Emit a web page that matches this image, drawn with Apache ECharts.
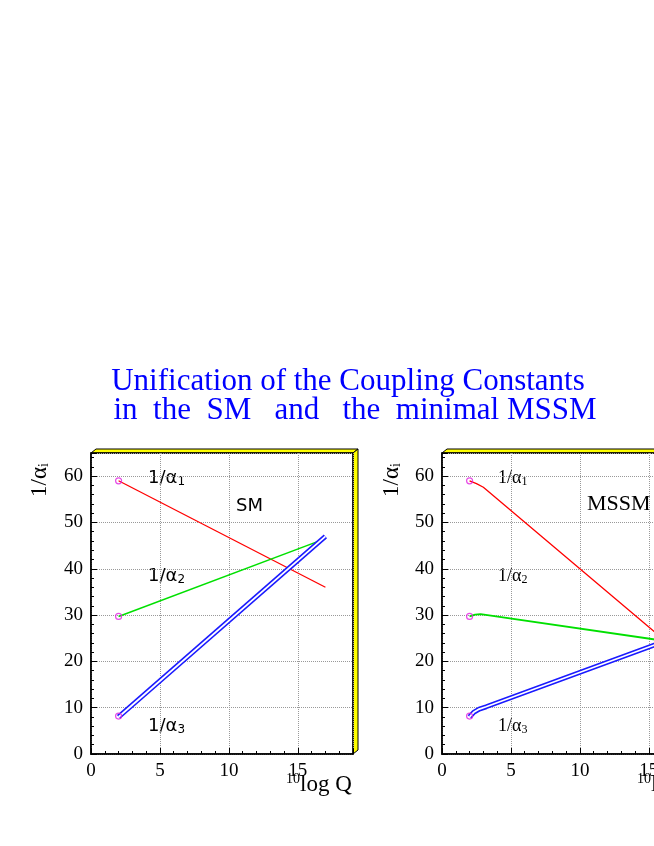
<!DOCTYPE html>
<html><head><meta charset="utf-8">
<script src="https://cdn.jsdelivr.net/npm/echarts@6/dist/echarts.min.js"></script>
<style>html,body{margin:0;padding:0;background:#fff;overflow:hidden;width:654px;height:846px}#c{width:720px;height:846px}</style>
</head><body><div id="c"></div>
<script>
const titleLines = ["Unification of the Coupling Constants", "in  the  SM   and   the  minimal MSSM"];
const xTicks = [0, 5, 10, 15];
const yTicks = [0, 10, 20, 30, 40, 50, 60];
const smA1 = [[2, 59], [17, 36]];
const smA2 = [[2, 29.7], [17, 46.5]];
const smA3 = [[2, 8], [17, 47]];
const mssmA1 = [[2, 59], [2.5, 58.4], [3, 57.6], [16.2, 24.4]];
const mssmA2 = [[2, 29.7], [2.4, 30.1], [2.8, 30.2], [16.2, 24.4]];
const mssmA3 = [[2, 8], [2.3, 9], [2.7, 9.7], [3.2, 10.2], [16.2, 24.4]];
const startPts = [[2, 59], [2, 29.7], [2, 8.2]];

const ch = echarts.init(document.getElementById('c'));
const serif = 'Liberation Serif';
function xAx(i){return {type:'value',gridIndex:i,min:0,max:19,interval:5,
  axisLine:{lineStyle:{color:'#000',width:1.5}},axisTick:{inside:true,length:6,lineStyle:{color:'#000'}},
  minorTick:{show:true,splitNumber:5,length:3,lineStyle:{color:'#000'}},
  axisLabel:{color:'#000',fontFamily:serif,fontSize:19,margin:8,formatter:v=>xTicks.includes(v)?v:''},
  splitLine:{show:true,lineStyle:{color:'#999',type:'dotted'}}};}
function yAx(i){return {type:'value',gridIndex:i,min:0,max:65,interval:10,
  axisLine:{show:true,lineStyle:{color:'#000',width:1.5}},axisTick:{inside:true,length:6,lineStyle:{color:'#000'}},
  minorTick:{show:true,splitNumber:5,length:3,lineStyle:{color:'#000'}},
  axisLabel:{color:'#000',fontFamily:serif,fontSize:19,margin:8,formatter:v=>yTicks.includes(v)?v:''},
  splitLine:{show:true,lineStyle:{color:'#999',type:'dotted'}}};}
function line(d,i,color,w){return {type:'line',xAxisIndex:i,yAxisIndex:i,data:d,showSymbol:false,smooth:false,
  lineStyle:{color:color,width:w},silent:true,animation:false,z:3};}
function blue(d,i){return [line(d,i,'#1a1aff',5), line(d,i,'#ffffff',1.8)];}
function marks(i){return {type:'scatter',xAxisIndex:i,yAxisIndex:i,data:startPts,symbol:'circle',symbolSize:6,
  itemStyle:{color:'rgba(255,255,255,0)',borderColor:'#e020e0',borderWidth:1.2},animation:false,z:10};}
const yellow = '#ffff00';
function frame(l,t,r,b){return [
  {type:'polygon',z:-1,shape:{points:[[l,t],[l+5,t-4],[r+5,t-4],[r,t]]},style:{fill:yellow,stroke:'#000',lineWidth:1}},
  {type:'polygon',z:-1,shape:{points:[[r,t],[r+5,t-4],[r+5,b-4],[r,b]]},style:{fill:yellow,stroke:'#000',lineWidth:1}},
  {type:'rect',z:-1,shape:{x:l,y:t,width:r-l,height:b-t},style:{fill:null,stroke:'#000',lineWidth:1.5}}];}
function txt(x,y,t,opts){return {type:'text',x:x,y:y,style:Object.assign({text:t,fill:'#000',fontSize:19,fontFamily:serif},opts||{})};}
function rich(x,y,n,sans){const f=sans?'DejaVu Sans':serif;return {type:'text',x:x,y:y,style:{text:'{a|1/α}{s|'+n+'}',rich:{
  a:{fontSize:18,fontFamily:f,fill:'#000'},
  s:{fontSize:12,fontFamily:f,fill:'#000',padding:[8,0,0,0]}}}};}
function ylab(x){return {type:'text',x:x,y:497,rotation:Math.PI/2,style:{text:'{a|1/α}{s|i}',rich:{a:{fontSize:23,fontFamily:serif,fill:'#000'},s:{fontSize:14,fontFamily:serif,fill:'#000',padding:[9,0,0,0]}}}};}
function xlab(x){return {type:'text',x:x,y:772,style:{text:'{s|10}{a|log Q}',rich:{a:{fontSize:23,fontFamily:serif,fill:'#000'},s:{fontSize:14,fontFamily:serif,fill:'#000',padding:[0,0,12,0]}}}};}
ch.setOption({
  animation:false,
  grid:[{left:91,top:453,width:262,height:301},{left:442,top:453,width:262,height:301}],
  xAxis:[xAx(0),xAx(1)], yAxis:[yAx(0),yAx(1)],
  series:[line(smA1,0,'#ff0000',1.3),line(smA2,0,'#00e000',1.5),...blue(smA3,0),marks(0),
          line(mssmA1,1,'#ff0000',1.3),line(mssmA2,1,'#00e000',1.8),...blue(mssmA3,1),marks(1)],
  graphic:[
    ...frame(91,453,353,754), ...frame(442,453,704,754),
    txt(348,366,titleLines[0],{fill:'#0000ff',fontSize:31,align:'center'}),
    txt(355,395,titleLines[1],{fill:'#0000ff',fontSize:31,align:'center'}),
    rich(148,468,'1',true), rich(148,566,'2',true), rich(148,716,'3',true),
    txt(236,497,'SM',{fontFamily:'DejaVu Sans',fontSize:18}),
    rich(498,468,'1',false), rich(498,566,'2',false), rich(498,716,'3',false),
    txt(587,493,'MSSM',{fontSize:22}),
    ylab(28), ylab(380), xlab(286), xlab(637)
  ]
});
</script></body></html>
